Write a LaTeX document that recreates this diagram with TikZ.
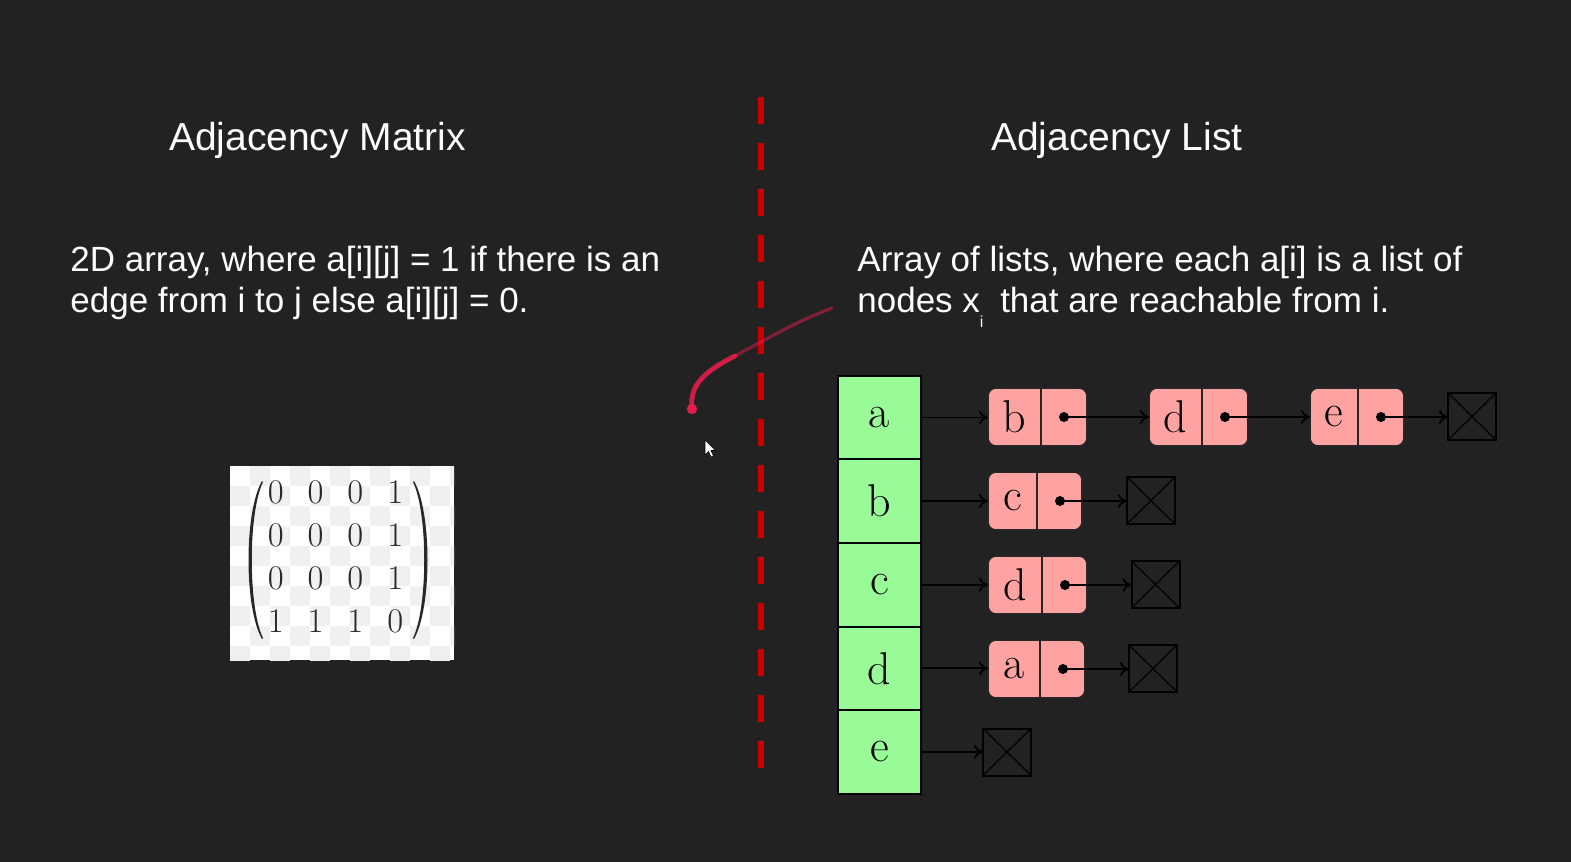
\documentclass[tikz,border=0pt]{standalone}
\usepackage{amsmath}
\usepackage{fontspec}
\newfontfamily\sansf{Liberation Sans}
\usetikzlibrary{arrows.meta,fit}
\definecolor{bg}{RGB}{34,34,34}
\definecolor{cellgreen}{RGB}{152,251,152}
\definecolor{cellpink}{RGB}{255,162,162}
\definecolor{divred}{RGB}{200,0,0}
\definecolor{inkred}{RGB}{225,30,75}
\definecolor{checkgrey}{RGB}{240,240,240}
\definecolor{txt}{RGB}{252,252,252}
\definecolor{parenink}{RGB}{40,40,40}
\tikzset{
  title/.style={font=\sansf\fontsize{19.5}{23}\selectfont, text=txt, inner sep=0pt, anchor=base},
  body/.style={font=\sansf\fontsize{17.5}{21}\selectfont, text=txt, inner sep=0pt, anchor=base west},
  gcell/.style={draw=black, fill=cellgreen, line width=1pt, minimum width=41.5pt, minimum height=41.8pt, inner sep=0pt, outer sep=0pt, font=\fontsize{23}{27}\selectfont},
  pbox/.style={draw=black!85, fill=cellpink, line width=0.8pt, rounded corners=4pt, inner sep=0pt, outer sep=0pt},
  pdiv/.style={draw=black!85, line width=0.8pt},
  ltr/.style={inner sep=0pt, font=\fontsize{23}{27}\selectfont},
  pdot/.style={circle, fill=black, minimum size=5pt, inner sep=0pt},
  nullbox/.style={draw=black, fill=bg, line width=1pt, minimum width=24pt, minimum height=23.5pt, inner sep=0pt, outer sep=0pt},
  xline/.style={draw=black, line width=0.6pt},
  conn/.style={draw=black, line width=0.9pt, -{To[length=4.5pt,width=7pt]}},
  mtxt/.style={inner sep=0pt, text=parenink, font=\fontsize{17}{21.5}\selectfont},
}
\newcommand\listnode[6]{% name, x left, x right, x divider, y, letter
  \node[pbox, fit={(#2,#5-29) (#3,#5+29)}] (#1) {};
  \coordinate (#1-d) at (#4,#5);
  \draw[pdiv] (#1.north -| #1-d) -- (#1.south -| #1-d);
  \node[ltr] (#1-t) at ({(#2+#4)/2},#5) {#6};
  \node[pdot] (#1-p) at ({#4+23},#5) {};
}
\newcommand\nullnode[3]{% name, x, y
  \node[nullbox] (#1) at (#2,#3) {};
  \draw[xline] (#1.north west) -- (#1.south east) (#1.north east) -- (#1.south west);
}
\begin{document}
\begin{tikzpicture}[x=0.5pt,y=-0.5pt]
\useasboundingbox (0,0) rectangle (1571,862);
\fill[bg] (0,0) rectangle (1571,862);

% titles
\node[title] (T1) at (317.5,150) {Adjacency Matrix};
\node[title] (T2) at (1117,150) {Adjacency List};

% descriptions
\node[body] (B1) at (70,271.7) {2D array, where a[i][j] = 1 if there is an};
\node[body] (B2) at (70,312.7) {edge from i to j else a[i][j] = 0.};
\node[body] (R1) at (857,271.7) {Array of lists, where each a[i] is a list of};
\node[body] (R2) at (857,312.7) {nodes x\raisebox{-7.5pt}{\fontsize{8}{8}\selectfont i}\hspace{3.5pt} that are reachable from i.};

% divider
\draw[divred, line width=3pt, dash pattern=on 13.5pt off 9.5pt] (761,97) -- (761,768);

% matrix picture with checkerboard background
\begin{scope}
  \clip (230,466) rectangle (454,660);
  \fill[white] (230,466) rectangle (454,660);
  \foreach \i in {0,...,11}{
    \foreach \j in {0,...,9}{
      \pgfmathtruncatemacro\chk{mod(\i+\j,2)}
      \ifnum\chk=1 \fill[checkgrey] ({230+20*\i},{466+20*\j}) rectangle ++(20,20);\fi
    }
  }
\end{scope}
\node[mtxt] (M) at (335.5,559)
  {\setlength\arraycolsep{6pt}$\begin{matrix}0&0&0&1\\0&0&0&1\\0&0&0&1\\1&1&1&0\end{matrix}$};
% parentheses of the matrix
\fill[parenink] (262,481) .. controls (244,512) and (244,608) .. (262,639)
  -- (263,638) .. controls (248,607) and (248,513) .. (263,482) -- cycle;
\fill[parenink] (414,481) .. controls (432,512) and (432,608) .. (414,639)
  -- (413,638) .. controls (428,607) and (428,513) .. (413,482) -- cycle;

% ink stroke and pointer
\draw[inkred, line width=2.4pt, line cap=round, opacity=0.9] (692,409) .. controls (689,385) and (705,371) .. (735,356);
\draw[inkred, line width=1.6pt, line cap=round, opacity=0.5] (735,356) .. controls (765,340) and (795,322) .. (832,308);
\fill[inkred] (692,409) circle (2.6pt);
\fill[white, draw=black, line width=0.3pt] (705,440) -- (705,455) -- (708.5,451.5) -- (711,457) -- (713.5,456) -- (711,450.5) -- (715.5,450.5) -- cycle;

% array of heads
\node[gcell] (Ga) at (879.5,417.5) {a};
\node[gcell] (Gb) at (879.5,501.1) {b};
\node[gcell] (Gc) at (879.5,584.7) {c};
\node[gcell] (Gd) at (879.5,668.3) {d};
\node[gcell] (Ge) at (879.5,751.9) {e};

% lists
\listnode{La1}{988}{1087}{1041}{417}{b}
\listnode{La2}{1149}{1248}{1202}{417}{d}
\listnode{La3}{1310}{1404}{1358}{417}{e}
\nullnode{Na}{1472}{416.5}
\listnode{Lb1}{988}{1082}{1037}{501}{c}
\nullnode{Nb}{1151}{500.5}
\listnode{Lc1}{988}{1087}{1042}{585}{d}
\nullnode{Nc}{1155.5}{584.5}
\listnode{Ld1}{988}{1085}{1040}{669}{a}
\nullnode{Nd}{1153}{668.5}
\nullnode{Ne}{1007}{752}

% connectors
\draw[conn] (Ga.east) -- (Ga.east -| La1.west);
\draw[conn] (La1-p.center) -- (La1-p.center -| La2.west);
\draw[conn] (La2-p.center) -- (La2-p.center -| La3.west);
\draw[conn] (La3-p.center) -- (La3-p.center -| Na.west);
\draw[conn] (Gb.east) -- (Gb.east -| Lb1.west);
\draw[conn] (Lb1-p.center) -- (Lb1-p.center -| Nb.west);
\draw[conn] (Gc.east) -- (Gc.east -| Lc1.west);
\draw[conn] (Lc1-p.center) -- (Lc1-p.center -| Nc.west);
\draw[conn] (Gd.east) -- (Gd.east -| Ld1.west);
\draw[conn] (Ld1-p.center) -- (Ld1-p.center -| Nd.west);
\draw[conn] (Ge.east) -- (Ge.east -| Ne.west);
\end{tikzpicture}
\end{document}
